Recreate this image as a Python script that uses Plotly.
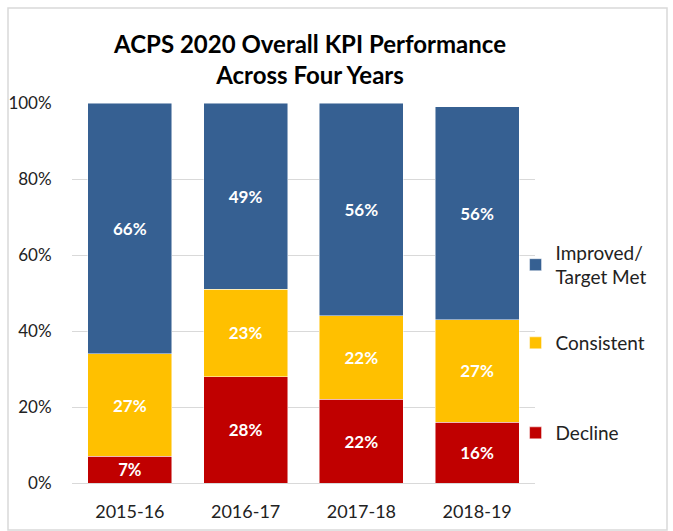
import plotly.graph_objects as go

years = ["2015-16", "2016-17", "2017-18", "2018-19"]
decline = [7, 28, 22, 16]
consistent = [27, 23, 22, 27]
improved = [66, 49, 56, 56]

series = [
    ("Decline", decline, "#C00000", "legend3"),
    ("Consistent", consistent, "#FFC000", "legend2"),
    ("Improved/<br>Target Met", improved, "#366092", "legend"),
]

FONT = "Lato, 'Open Sans', sans-serif"

fig = go.Figure()
for name, vals, color, leg in series:
    fig.add_trace(go.Bar(
        x=years, y=vals, name=name, legend=leg, showlegend=True,
        marker=dict(color=color, line=dict(color="rgba(255,255,255,0.6)", width=0.8)),
        texttemplate="%{y}", textposition="inside", insidetextanchor="middle",
        textfont=dict(color="white", size=17, family=FONT, weight="bold"),
        textangle=0,
    ))

L, R, T, B = 72, 138, 103, 48
W, H = 673, 531
pw, ph = W - L - R, H - T - B

def leg(center_px):
    return dict(x=0.958, xanchor="left", y=(483 - center_px) / ph, yanchor="middle",
                font=dict(size=19), itemwidth=30, bgcolor="rgba(0,0,0,0)")

fig.update_layout(
    width=W, height=H, showlegend=True,
    barmode="stack", bargap=0.274,
    margin=dict(l=L, r=R, t=T, b=B),
    plot_bgcolor="white", paper_bgcolor="white",
    font=dict(family=FONT, color="#222222", size=16),
    title=dict(
        text="<b>ACPS 2020 Overall KPI Performance<br>Across Four Years</b>",
        x=(310) / W, xanchor="center", y=1 - 53 / H, yanchor="middle",
        font=dict(size=24, color="black", family=FONT),
    ),
    yaxis=dict(range=[0, 100], dtick=20, ticksuffix="%", showgrid=True,
               gridcolor="#D9D9D9", gridwidth=1, zeroline=False, automargin=False,
               tickfont=dict(size=17), ticks="outside", ticklen=16, tickcolor="white"),
    xaxis=dict(showline=True, linecolor="#D9D9D9", tickfont=dict(size=18), automargin=False,
               ticks="outside", ticklen=12, tickcolor="white"),
    legend=leg(265),
    legend2=leg(343),
    legend3=leg(433),
    shapes=[dict(type="rect", xref="paper", yref="paper",
                 x0=(8 - L) / pw, x1=(667 - L) / pw,
                 y0=(483 - 530) / ph, y1=(483 - 8) / ph,
                 line=dict(color="#D9D9D9", width=1.5), layer="below")],
)

fig.write_html("out.html")
